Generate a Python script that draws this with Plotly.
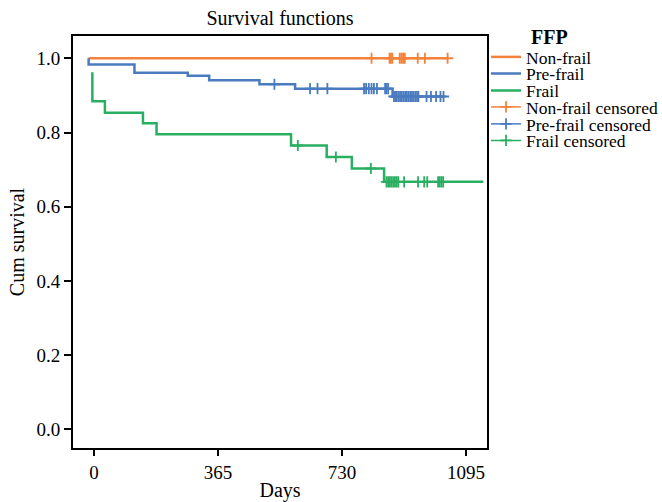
import plotly.graph_objects as go

# ---- data ----
groups = ["Non-frail", "Pre-frail", "Frail"]
colors = {"Non-frail": "#f4823b", "Pre-frail": "#4b7bbf", "Frail": "#2aae62"}

nonfrail_t = [-16, 1041]
nonfrail_s = [1.0, 1.0]
nonfrail_cens = [817, 870, 874, 878, 900, 905, 910, 915, 953, 974, 1041]

prefrail_t = [-16, -16, 119, 276, 339, 487, 592, 879, 1029]
prefrail_s = [1.0, 0.983, 0.961, 0.953, 0.941, 0.930, 0.918, 0.897, 0.897]
prefrail_cens = [531, 636, 658, 687, 795, 801, 809, 817, 824, 833, 857, 861, 866,
                 883, 887, 891, 896, 901, 906, 911, 916, 921, 926, 931, 936, 941,
                 946, 951, 955, 979, 992, 1007, 1020, 1029]

frail_t = [-5, -5, 32, 144, 184, 580, 685, 759, 854, 1146]
frail_s = [0.962, 0.884, 0.853, 0.825, 0.795, 0.765, 0.734, 0.703, 0.667, 0.667]
frail_cens = [600, 712, 815, 861, 866, 871, 876, 881, 886, 891, 896, 913, 954,
              972, 981, 1013, 1018, 1023, 1028]

x_ticks = [0, 365, 730, 1095]
y_ticks = [0.0, 0.2, 0.4, 0.6, 0.8, 1.0]

series = {
    "Non-frail": (nonfrail_t, nonfrail_s, nonfrail_cens),
    "Pre-frail": (prefrail_t, prefrail_s, prefrail_cens),
    "Frail": (frail_t, frail_s, frail_cens),
}


def step_value(ts, ss, t):
    v = ss[0]
    for ti, si in zip(ts, ss):
        if ti <= t:
            v = si
    return v


FONT = "Liberation Serif, Times New Roman, serif"
W, H = 662, 502
L, R, T, B = 73, 175, 36, 54
PW, PH = W - L - R, H - T - B

# legend entry centres (pixels from top)
entry_y = [57, 73.5, 90.5, 107, 124, 140.5]
legend_x = (486 - L) / PW

fig = go.Figure()
legend_names = ["legend", "legend2", "legend3", "legend4", "legend5", "legend6"]
k = 0
for g in groups:
    ts, ss, _ = series[g]
    fig.add_trace(go.Scatter(x=ts, y=ss, mode="lines", name=g, legend=legend_names[k],
                             line=dict(color=colors[g], width=2.5, shape="hv")))
    k += 1

for g in groups:
    ts, ss, cs = series[g]
    xs, ys = [], []
    for c in cs:
        xs += [c, None]
        ys += [step_value(ts, ss, c), None]
    fig.add_trace(go.Scatter(x=xs, y=ys, mode="lines+markers", name=g + " censored",
                             legend=legend_names[k], connectgaps=False,
                             line=dict(color=colors[g], width=1.5),
                             marker=dict(symbol="cross-thin", size=8,
                                         line=dict(color=colors[g], width=1.8))))
    k += 1

legend_cfg = {}
for name, yc in zip(legend_names, entry_y):
    legend_cfg[name] = dict(x=legend_x, y=(H - B - yc) / PH, xanchor="left", yanchor="middle",
                            font=dict(size=17.5, family=FONT, color="black"), itemwidth=30,
                            bgcolor="rgba(0,0,0,0)", borderwidth=0)

fig.update_layout(
    width=W, height=H,
    margin=dict(l=L, r=R, t=T, b=B, autoexpand=False),
    paper_bgcolor="white", plot_bgcolor="white",
    font=dict(family=FONT, size=19, color="black"),
    title=dict(text="Survival functions", x=(L + W - R) / 2 / W, xanchor="center",
               y=1 - 18 / H, yanchor="middle", font=dict(size=20)),
    showlegend=True,
    annotations=[dict(text="<b>FFP</b>", x=(549 - L) / PW, y=(H - B - 37) / PH,
                      xref="paper", yref="paper", xanchor="center", yanchor="middle",
                      showarrow=False, font=dict(size=20, family=FONT, color="black"))],
    **legend_cfg,
)
fig.update_xaxes(range=[-62, 1157], tickvals=x_ticks, ticktext=[str(v) for v in x_ticks],
                 showgrid=False, zeroline=False, showline=True, mirror=True,
                 linecolor="black", linewidth=2, ticks="outside", ticklen=6,
                 tickwidth=1.5, tickcolor="black", automargin=False,
                 title=dict(text="Days", standoff=2, font=dict(size=20)))
fig.update_yaxes(range=[-0.05, 1.06], tickvals=y_ticks, tickformat=".1f",
                 showgrid=False, zeroline=False, showline=True, mirror=True,
                 linecolor="black", linewidth=2, ticks="outside", ticklen=7,
                 tickwidth=1.5, tickcolor="black", automargin=False,
                 title=dict(text="Cum survival", standoff=6, font=dict(size=20)))

fig.write_html("out.html", config={"displayModeBar": False},
               post_script="document.body.style.margin='0px';")
